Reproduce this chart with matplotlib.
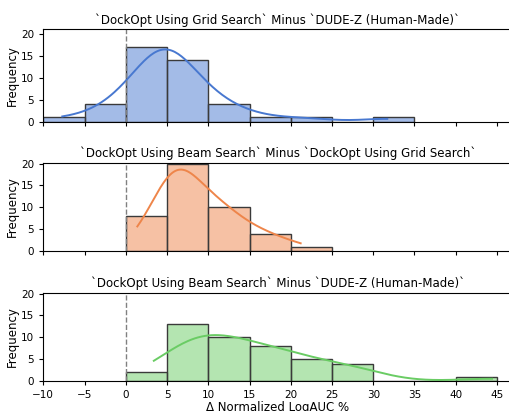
import matplotlib
matplotlib.use("Agg")
import matplotlib.pyplot as plt
import numpy as np
import seaborn as sns

# Estimated per-target differences (read off the histogram bins)
grid_minus_dudez = [-7.7,
                    -3.5, -2.0, -1.2, -0.5,
                    0.5, 1.0, 1.5, 2.0, 2.4, 2.8, 3.1, 3.4, 3.7, 3.9, 4.1, 4.3, 4.5, 4.6, 4.7, 4.8, 4.9,
                    5.1, 5.2, 5.4, 5.6, 5.8, 6.1, 6.4, 6.8, 7.2, 7.7, 8.2, 8.8, 9.3, 9.8,
                    10.5, 11.5, 12.5, 14.0,
                    17.0,
                    22.0,
                    31.7]
beam_minus_grid = [1.4, 2.4, 3.0, 3.5, 3.9, 4.3, 4.6, 4.9,
                   5.1, 5.3, 5.5, 5.7, 5.9, 6.1, 6.3, 6.5, 6.7, 6.9, 7.1, 7.3, 7.6, 7.9, 8.2, 8.5, 8.8, 9.1, 9.5, 9.9,
                   10.2, 10.6, 11.0, 11.4, 11.8, 12.3, 12.8, 13.3, 13.9, 14.6,
                   15.5, 16.5, 17.5, 18.8,
                   21.2]
beam_minus_dudez = [3.4, 4.6,
                    5.6, 6.2, 6.7, 7.1, 7.5, 7.9, 8.3, 8.7, 9.0, 9.3, 9.5, 9.7, 9.9,
                    10.6, 11.2, 11.7, 12.2, 12.7, 13.2, 13.7, 14.1, 14.5, 14.9,
                    15.7, 16.4, 17.0, 17.6, 18.2, 18.8, 19.3, 19.8,
                    20.8, 21.8, 22.8, 23.8, 24.7,
                    26.2, 27.4, 28.6, 29.6,
                    44.4]

titles = ["`DockOpt Using Grid Search` Minus `DUDE-Z (Human-Made)`",
          "`DockOpt Using Beam Search` Minus `DockOpt Using Grid Search`",
          "`DockOpt Using Beam Search` Minus `DUDE-Z (Human-Made)`"]
series = [grid_minus_dudez, beam_minus_grid, beam_minus_dudez]
bin_edges = [np.arange(-10, 36, 5), np.arange(0, 26, 5), np.arange(0, 46, 5)]
colors = ["#4878d0", "#ee854a", "#6acc64"]
ytops = [21.0, 20.2, 20.2]
xticks = [-10, -5, 0, 5, 10, 15, 20, 25, 30, 35, 40, 45]

fig = plt.figure(figsize=(5.10, 4.11), dpi=100)
left = 43.3 / 510
width = (512 - 43.3) / 510
boxes = [(0.7039, 0.2248), (0.3893, 0.2148), (0.0730, 0.2148)]

for i, (data, title, bins, c) in enumerate(zip(series, titles, bin_edges, colors)):
    ax = fig.add_axes([left, boxes[i][0], width, boxes[i][1]])
    sns.histplot(x=data, bins=bins, kde=True, color=c, alpha=0.5,
                 edgecolor="#3a3a3a", linewidth=1.0, ax=ax,
                 line_kws={"linewidth": 1.4})
    ax.axvline(0, color="gray", linestyle="--", linewidth=1)
    ax.set_xlim(-10, 46.82)
    ax.set_ylim(0, ytops[i])
    ax.set_yticks([0, 5, 10, 15, 20])
    ax.set_xticks(xticks)
    ax.set_title(title, fontsize=8.5, pad=4)
    ax.set_ylabel("Frequency", fontsize=8.5)
    ax.tick_params(labelsize=7.5, length=3)
    if i < 2:
        ax.set_xticklabels([])
        ax.set_xlabel("")
    else:
        ax.set_xlabel("Δ Normalized LogAUC %", fontsize=8.5, labelpad=1)
    ax.yaxis.set_label_coords(-0.053, 0.5)

fig.savefig("out.png", dpi=100)
